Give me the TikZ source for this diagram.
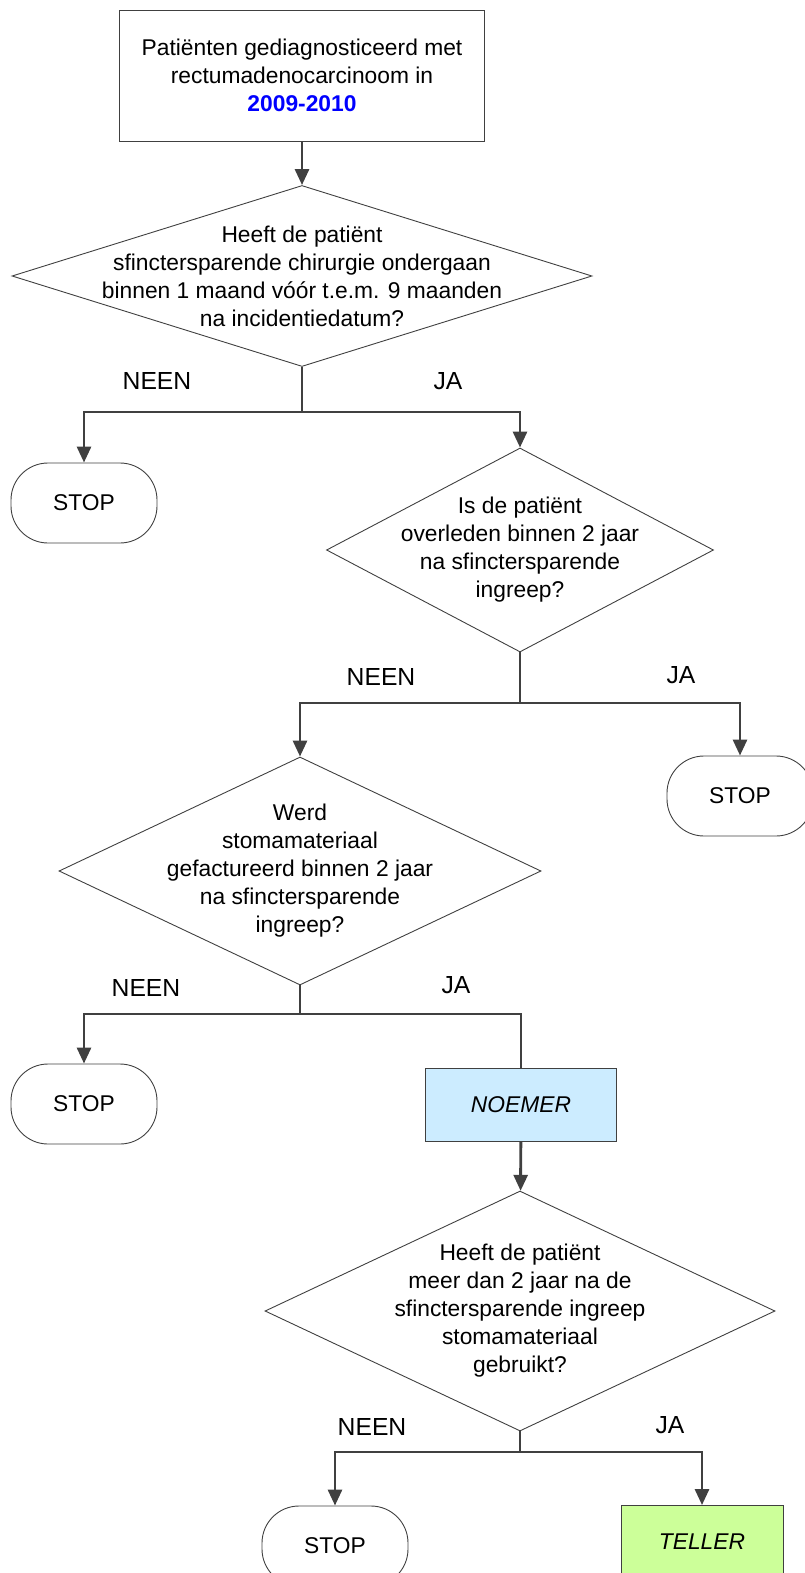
\documentclass[tikz,border=0pt]{standalone}
\usepackage{fontspec}
\setmainfont{Liberation Sans}
\usetikzlibrary{shapes.geometric,arrows.meta}

\definecolor{linegray}{HTML}{404040}
\definecolor{yearblue}{HTML}{0000FF}
\definecolor{noemerblue}{HTML}{CCECFF}
\definecolor{tellergreen}{HTML}{CCFF99}

\begin{document}
\begin{tikzpicture}[x=1pt, y=-1pt,
    every node/.style={font=\fontsize{22.8}{28}\selectfont, align=center},
    box/.style={draw=linegray, line width=0.9pt, rectangle, inner sep=0pt},
    decision/.style={draw=linegray, line width=0.9pt, diamond, inner sep=0pt},
    stopbox/.style={draw=linegray, line width=0.9pt, rectangle, rounded corners=37pt,
                    minimum width=146pt, minimum height=80pt},
    line/.style={draw=linegray, line width=2.9pt},
    arr/.style={line, -{Triangle[length=16pt,width=14pt]}},
    branchlabel/.style={font=\fontsize{24.7}{28}\selectfont}]

    \useasboundingbox (0,0) rectangle (805,1573);

    \node [box, minimum width=365pt, minimum height=131pt] (start) at (302,75.5)
      {Patiënten gediagnosticeerd met\\rectumadenocarcinoom in\\\textcolor{yearblue}{\textbf{2009-2010}}};

    \node [decision, minimum width=580pt, minimum height=181pt] (q1) at (302,276) {};
    \node (q1txt) at (q1) {Heeft de patiënt\\sfinctersparende chirurgie ondergaan\\binnen 1 maand vóór t.e.m. 9 maanden\\na incidentiedatum?};
    \node [stopbox] (stop1) at (84,503) {STOP};

    \node [decision, minimum width=387pt, minimum height=204pt] (q2) at (520,550) {};
    \node (q2txt) at (q2) {Is de patiënt\\overleden binnen 2 jaar\\na sfinctersparende\\ingreep?};
    \node [stopbox] (stop2) at (740,796) {STOP};

    \node [decision, minimum width=482pt, minimum height=228pt] (q3) at (300,871) {};
    \node (q3txt) at (q3) {Werd\\stomamateriaal\\gefactureerd binnen 2 jaar\\na sfinctersparende\\ingreep?};
    \node [stopbox] (stop3) at (84,1104) {STOP};
    \node [box, fill=noemerblue, minimum width=191pt, minimum height=73pt] (noemer) at (521,1105) {\textit{NOEMER}};

    \node [decision, minimum width=510pt, minimum height=240pt] (q4) at (520,1311) {};
    \node (q4txt) at (q4) {Heeft de patiënt\\meer dan 2 jaar na de\\sfinctersparende ingreep\\stomamateriaal\\gebruikt?};
    \node [stopbox] (stop4) at (335,1546) {STOP};
    \node [box, fill=tellergreen, minimum width=162pt, minimum height=73pt] (teller) at (702,1542) {\textit{TELLER}};

    \coordinate (j1) at (302,412);
    \coordinate (j2) at (520,703);
    \coordinate (j3) at (300,1014);
    \coordinate (j4) at (520,1452);

    \draw [arr] (start) -- (q1);
    \draw [arr] (q1) -- (j1) -| (stop1);
    \draw [arr] (j1) -| (q2);
    \draw [arr] (q2) -- (j2) -| (q3);
    \draw [arr] (j2) -| (stop2);
    \draw [arr] (q3) -- (j3) -| (stop3);
    \draw [line] (j3) -| (noemer);
    \draw [arr] (noemer) -- (q4);
    \draw [arr] (q4) -- (j4) -| (stop4);
    \draw [arr] (j4) -| (teller);

    \foreach \nx/\ny/\jx/\jy [count=\i] in {157/381/448/381, 381/677/681/675, 146/988/456/985, 372/1427/670/1425}
      {
        \node [branchlabel] (neen\i) at (\nx,\ny) {NEEN};
        \node [branchlabel] (ja\i) at (\jx,\jy) {JA};
      }

\end{tikzpicture}
\end{document}
